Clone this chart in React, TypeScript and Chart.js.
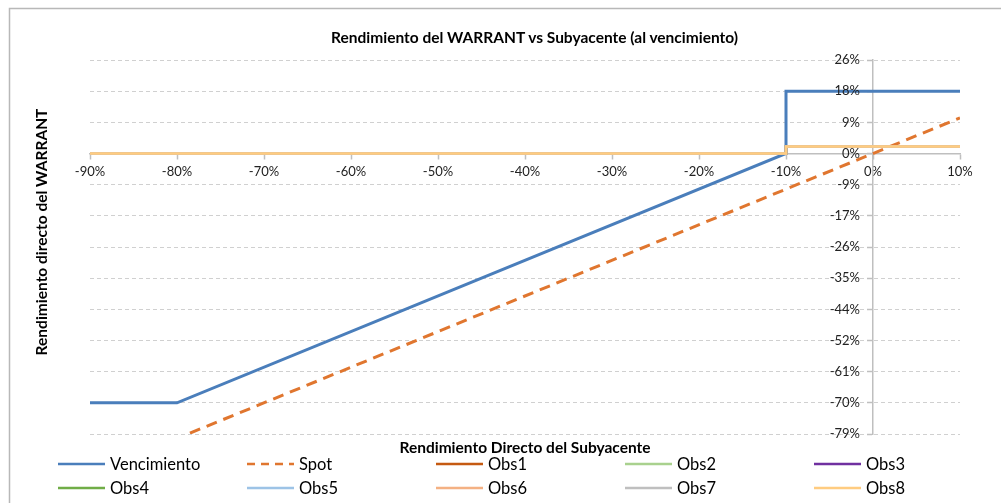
import React, { useEffect, useRef } from "react";
import { Chart, registerables } from "chart.js";

Chart.register(...registerables);

const TITLE = "Rendimiento del WARRANT vs Subyacente (al vencimiento)";
const X_TITLE = "Rendimiento Directo del Subyacente";
const Y_TITLE = "Rendimiento directo del WARRANT";

// x values in %, y values in %
const vencimientoX = [-90, -80, -10, -10, 10];
const vencimientoY = [-70, -70, 0, 17.5, 17.5];
const spotX = [-90, 10];
const spotY = [-90, 10];
const obsX = [-90, -10, -10, 10];
const obsY = [0, 0, 2, 2];

const seriesNames = ["Vencimiento", "Spot", "Obs1", "Obs2", "Obs3", "Obs4", "Obs5", "Obs6", "Obs7", "Obs8"];
const seriesColors = ["#4A7EBB", "#E0762F", "#C55A11", "#A9D18E", "#7030A0", "#70AD47", "#9DC3E6", "#F4B183", "#BFBFBF", "#FFCC80"];

const X_MIN = -90, X_MAX = 10, X_STEP = 10;
const Y_MIN = -78.75, Y_MAX = 26.25, Y_STEP = 8.75;

const FONT = "Lato, 'Open Sans', sans-serif";

const pts = (xs: number[], ys: number[]) => xs.map((x, i) => ({ x, y: ys[i] }));

const decorPlugin = {
  id: "excelDecor",
  beforeDraw(chart: any) {
    const ctx = chart.ctx;
    const ys = chart.scales.y;
    if (ys && !ys._shiftPatched) {
      const orig = ys.drawLabels;
      ys.drawLabels = function (area: any) {
        this.ctx.save();
        this.ctx.translate(-13, 0);
        orig.call(this, area);
        this.ctx.restore();
      };
      ys._shiftPatched = true;
    }
    ctx.save();
    ctx.fillStyle = "#ffffff";
    ctx.fillRect(0, 0, chart.width, chart.height);
    ctx.strokeStyle = "#B8B8B8";
    ctx.lineWidth = 1.5;
    ctx.beginPath();
    ctx.moveTo(9.5, chart.height + 2);
    ctx.lineTo(9.5, 8.5);
    ctx.lineTo(chart.width + 2, 8.5);
    ctx.stroke();
    ctx.restore();
  },
  afterDraw(chart: any) {
    const ctx = chart.ctx;
    const area = chart.chartArea;
    ctx.save();
    ctx.fillStyle = "#000000";
    // axis titles
    ctx.font = "bold 15.5px " + FONT;
    ctx.textAlign = "center";
    ctx.textBaseline = "middle";
    ctx.fillText(X_TITLE, (area.left + area.right) / 2, 448);
    ctx.save();
    ctx.translate(42, 232);
    ctx.rotate(-Math.PI / 2);
    ctx.fillText(Y_TITLE, 0, 0);
    ctx.restore();
    // legend
    ctx.font = "16.5px " + FONT;
    ctx.textAlign = "left";
    chart.data.datasets.forEach((ds: any, i: number) => {
      const col = i % 5;
      const row = Math.floor(i / 5);
      const x0 = 58 + col * 189;
      const y = 464 + row * 24;
      ctx.save();
      ctx.strokeStyle = ds.borderColor;
      ctx.lineWidth = 2.5;
      ctx.setLineDash(ds.borderDash && ds.borderDash.length ? [8, 6] : []);
      ctx.beginPath();
      ctx.moveTo(x0, y);
      ctx.lineTo(x0 + 47, y);
      ctx.stroke();
      ctx.restore();
      ctx.fillStyle = "#000000";
      ctx.fillText(ds.label, x0 + 52, y + 1);
    });
    ctx.restore();
  },
};

export default function App() {
  const ref = useRef<HTMLCanvasElement | null>(null);
  useEffect(() => {
    if (!ref.current) return;
    const xs = [vencimientoX, spotX, obsX, obsX, obsX, obsX, obsX, obsX, obsX, obsX];
    const ys = [vencimientoY, spotY, obsY, obsY, obsY, obsY, obsY, obsY, obsY, obsY];
    const datasets = seriesNames.map((name, i) => ({
      label: name,
      data: pts(xs[i], ys[i]),
      borderColor: seriesColors[i],
      backgroundColor: seriesColors[i],
      borderWidth: i <= 1 ? 3 : 2.5,
      borderDash: i === 1 ? [11, 7] : [],
      pointRadius: 0,
      fill: false,
      tension: 0,
      order: seriesNames.length - 1 - i,
    }));
    const chart = new Chart(ref.current, {
      type: "line",
      data: { datasets },
      options: {
        animation: false,
        responsive: true,
        maintainAspectRatio: false,
        layout: { padding: { left: 90, right: 41, top: 60, bottom: 69 } },
        plugins: {
          legend: { display: false },
          tooltip: { enabled: false },
          title: { display: false },
        },
        scales: {
          x: {
            type: "linear",
            position: { y: 0 } as any,
            min: X_MIN,
            max: X_MAX,
            ticks: {
              stepSize: X_STEP,
              color: "#222222",
              font: { family: FONT, size: 13 },
              padding: 6,
              maxRotation: 0,
              callback: (v: any) => `${Math.round(Number(v))}%`,
            },
            grid: { drawOnChartArea: false, drawTicks: true, tickLength: 5, color: "#BFBFBF", tickWidth: 1.5 },
            border: { display: true, color: "#BFBFBF", width: 1.5 },
          },
          y: {
            type: "linear",
            position: { x: 0 } as any,
            min: Y_MIN,
            max: Y_MAX,
            ticks: {
              stepSize: Y_STEP,
              color: "#222222",
              font: { family: FONT, size: 13 },
              padding: 4,
              z: 1,
              callback: (v: any) => { const r = Math.round(Number(v)); return `${r === 0 ? 0 : r}%`; },
            },
            grid: { drawOnChartArea: true, drawTicks: true, tickLength: 5, color: "#D0D0D0", tickColor: "#BFBFBF", tickWidth: 1.5, tickBorderDash: [] },
            border: { display: true, color: "#BFBFBF", width: 1.5, dash: [4, 3] },
          },
        },
      },
      plugins: [decorPlugin],
    } as any);
    return () => chart.destroy();
  }, []);
  return (
    <div style={{ position: "absolute", left: 0, top: 0, width: 1001, height: 503 }}>
      <canvas ref={ref} />
      <div
        style={{
          position: "absolute",
          left: 0,
          top: 27,
          width: 1069,
          textAlign: "center",
          fontFamily: FONT,
          fontWeight: "bold",
          fontSize: 15.5,
          lineHeight: "20px",
          color: "#000",
          pointerEvents: "none",
        }}
      >
        {TITLE}
      </div>
    </div>
  );
}
